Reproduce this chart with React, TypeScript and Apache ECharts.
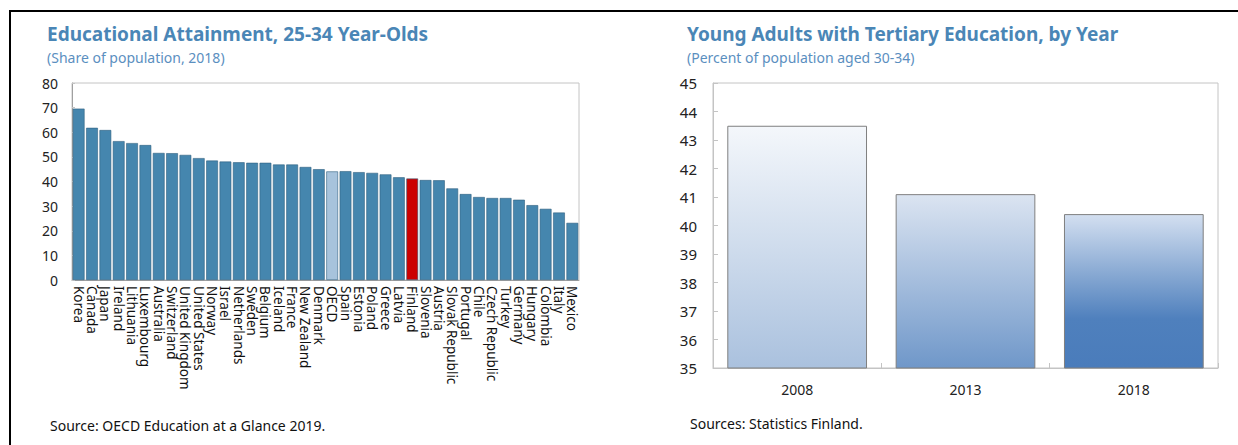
import React, { useEffect, useRef } from "react";
import * as echarts from "echarts";

const countries = [
  "Korea", "Canada", "Japan", "Ireland", "Lithuania", "Luxembourg", "Australia",
  "Switzerland", "United Kingdom", "United States", "Norway", "Israel", "Netherlands",
  "Sweden", "Belgium", "Iceland", "France", "New Zealand", "Denmark", "OECD", "Spain",
  "Estonia", "Poland", "Greece", "Latvia", "Finland", "Slovenia", "Austria",
  "Slovak Republic", "Portugal", "Chile", "Czech Republic", "Turkey", "Germany",
  "Hungary", "Colombia", "Italy", "Mexico",
];
const attainment = [
  69.6, 61.8, 60.9, 56.4, 55.6, 54.8, 51.6, 51.5, 50.8, 49.5, 48.5, 48.1, 47.8,
  47.6, 47.6, 46.9, 46.9, 45.9, 45.0, 44.1, 44.2, 43.8, 43.5, 42.9, 41.7, 41.2,
  40.6, 40.5, 37.2, 34.9, 33.7, 33.3, 33.3, 32.6, 30.4, 28.9, 27.4, 23.2,
];
const leftTicks = { min: 0, max: 80, interval: 10 };

const years = ["2008", "2013", "2018"];
const tertiary = [43.5, 41.1, 40.4];
const rightTicks = { min: 35, max: 45, interval: 1 };

const BAR_BLUE = "#4586ae";
const OECD_COLOR = "#a7c3dc";
const FINLAND_COLOR = "#cc0000";
const yearGradients = [
  [[0, "#f4f7fb"], [1, "#aac1de"]],
  [[0, "#dbe4f1"], [1, "#6f97c9"]],
  [[0, "#d3dff0"], [0.68, "#4f80bd"], [1, "#4a7cbb"]],
];

const FONT = "'Noto Sans', 'Open Sans', sans-serif";
const TITLE_COLOR = "#4a86b6";
const SUB_COLOR = "#5b8fbf";

export default function App() {
  const ref = useRef<HTMLDivElement>(null);
  useEffect(() => {
    if (!ref.current) return;
    const chart = echarts.init(ref.current, null, { renderer: "svg" });
    const leftData = attainment.map((v, i) => {
      const name = countries[i];
      let color = BAR_BLUE;
      if (name === "OECD") color = OECD_COLOR;
      if (name === "Finland") color = FINLAND_COLOR;
      return { value: v, itemStyle: { color } };
    });
    const rightData = tertiary.map((v, i) => ({
      value: v,
      itemStyle: {
        color: {
          type: "linear", x: 0, y: 0, x2: 0, y2: 1,
          colorStops: yearGradients[i].map(([o, c]) => ({ offset: o as number, color: c as string })),
        },
      },
    }));
    const option: any = {
      animation: false,
      backgroundColor: "#ffffff",
      textStyle: { fontFamily: FONT },
      grid: [
        { left: 72, top: 83, width: 507, height: 197, show: true, borderColor: "#c4c4c4", borderWidth: 1, backgroundColor: "transparent" },
        { left: 713, top: 83, width: 505, height: 285, show: true, borderColor: "#c4c4c4", borderWidth: 1, backgroundColor: "transparent" },
      ],
      xAxis: [
        {
          gridIndex: 0, type: "category", data: countries,
          axisLine: { lineStyle: { color: "#a0a0a0" } },
          axisTick: { show: false },
          axisLabel: { rotate: -90, interval: 0, fontSize: 13.5, color: "#111", margin: 6, fontFamily: FONT },
        },
        {
          gridIndex: 1, type: "category", data: years,
          axisLine: { lineStyle: { color: "#c4c4c4" } },
          axisTick: { show: true, inside: true, length: 5, lineStyle: { color: "#c4c4c4" } },
          axisLabel: { fontSize: 14, color: "#222", margin: 14, fontFamily: FONT },
        },
      ],
      yAxis: [
        {
          gridIndex: 0, type: "value", ...leftTicks,
          splitLine: { show: false },
          axisLine: { show: true, lineStyle: { color: "#a0a0a0" } },
          axisTick: { show: true, inside: true, length: 3, lineStyle: { color: "#c4c4c4" } },
          axisLabel: { fontSize: 14, color: "#222", margin: 14, fontFamily: FONT },
        },
        {
          gridIndex: 1, type: "value", ...rightTicks,
          splitLine: { show: false },
          axisLine: { show: true, lineStyle: { color: "#c4c4c4" } },
          axisTick: { show: true, inside: true, length: 5, lineStyle: { color: "#c4c4c4" } },
          axisLabel: { fontSize: 15, color: "#222", margin: 16, fontFamily: FONT },
        },
      ],
      series: [
        {
          type: "bar", xAxisIndex: 0, yAxisIndex: 0, data: leftData,
          barCategoryGap: "12%",
          itemStyle: { borderColor: "#2f5f7f", borderWidth: 0.6 },
        },
        {
          type: "bar", xAxisIndex: 1, yAxisIndex: 1, data: rightData,
          barWidth: "83%",
          itemStyle: { borderColor: "#7f7f7f", borderWidth: 1 },
        },
      ],
      graphic: [
        { type: "line", shape: { x1: 9, y1: 11, x2: 1238, y2: 11 }, style: { stroke: "#000", lineWidth: 2 } },
        { type: "line", shape: { x1: 10, y1: 10, x2: 10, y2: 445 }, style: { stroke: "#000", lineWidth: 2 } },
        { type: "text", x: 47, y: 34, style: { text: "Educational Attainment, 25-34 Year-Olds", font: `bold 19px ${FONT}`, fill: TITLE_COLOR, verticalAlign: "middle" } },
        { type: "text", x: 47, y: 57, style: { text: "(Share of population, 2018)", font: `14px ${FONT}`, fill: SUB_COLOR, verticalAlign: "middle" } },
        { type: "text", x: 687, y: 34, style: { text: "Young Adults with Tertiary Education, by Year", font: `bold 19px ${FONT}`, fill: TITLE_COLOR, verticalAlign: "middle" } },
        { type: "text", x: 687, y: 57, style: { text: "(Percent of population aged 30-34)", font: `14px ${FONT}`, fill: SUB_COLOR, verticalAlign: "middle" } },
        { type: "text", x: 50, y: 425, style: { text: "Source: OECD Education at a Glance 2019.", font: `14px ${FONT}`, fill: "#111", verticalAlign: "middle" } },
        { type: "text", x: 690, y: 423, style: { text: "Sources: Statistics Finland.", font: `14px ${FONT}`, fill: "#111", verticalAlign: "middle" } },
      ],
    };
    chart.setOption(option);
    return () => chart.dispose();
  }, []);
  return (
    <div
      ref={ref}
      style={{ position: "absolute", left: 0, top: 0, width: 1238, height: 445 }}
    />
  );
}
